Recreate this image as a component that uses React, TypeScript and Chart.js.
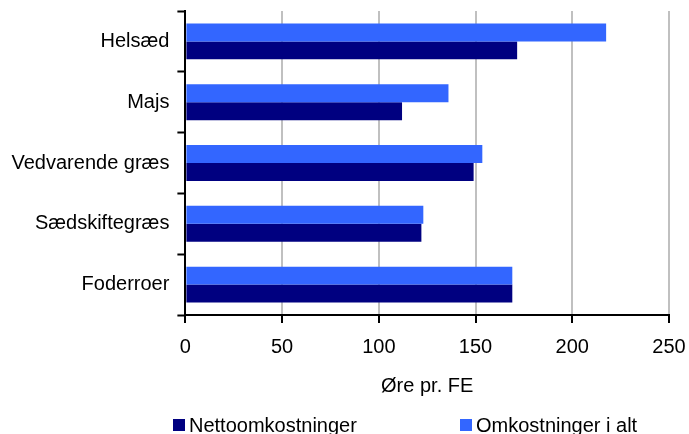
import React, { useEffect, useRef } from "react";
import { Chart, registerables } from "chart.js";

Chart.register(...registerables);

const categories = ["Helsæd", "Majs", "Vedvarende græs", "Sædskiftegræs", "Foderroer"];
const nettoomkostninger = [171.5, 112, 149, 122, 169];
const omkostningerIAlt = [217.5, 136, 153.5, 123, 169];
const xTickMin = 0;
const xTickMax = 250;
const xTickStep = 50;
const xTitle = "Øre pr. FE";
const legendNetto = "Nettoomkostninger";
const legendOmk = "Omkostninger i alt";

const FONT = "'Liberation Sans', Arial, Helvetica, sans-serif";
const NAVY = "#000080";
const BLUE = "#3366FF";

export default function App() {
  const canvasRef = useRef<HTMLCanvasElement | null>(null);

  useEffect(() => {
    const canvas = canvasRef.current;
    if (!canvas) return;
    const font = { family: FONT, size: 20 };
    const chart = new Chart(canvas, {
      type: "bar",
      data: {
        labels: categories,
        datasets: [
          { label: legendOmk, data: omkostningerIAlt, backgroundColor: BLUE },
          { label: legendNetto, data: nettoomkostninger, backgroundColor: NAVY },
        ],
      },
      options: {
        indexAxis: "y",
        animation: false,
        responsive: false,
        maintainAspectRatio: false,
        layout: { padding: { left: 3.5, right: 20, top: 11, bottom: 36 } },
        datasets: { bar: { categoryPercentage: 0.59, barPercentage: 1 } },
        plugins: { legend: { display: false }, tooltip: { enabled: false } },
        scales: {
          x: {
            min: xTickMin,
            max: xTickMax,
            ticks: { stepSize: xTickStep, color: "#000", font, padding: 12 },
            grid: { color: "#c0c0c0", lineWidth: 2, tickColor: "#000", tickLength: 8, tickWidth: 2 },
            border: { color: "#000", width: 2 },
            title: { display: true, text: xTitle, color: "#000", font, padding: { top: 3, bottom: 0 } },
            afterFit: (scale: any) => {
              scale.paddingRight = 0;
              scale.paddingLeft = 0;
            },
          },
          y: {
            ticks: { color: "#000", font, padding: 8 },
            grid: { drawOnChartArea: false, offset: true, tickColor: "#000", tickLength: 8, tickWidth: 2 },
            border: { color: "#000", width: 2 },
            afterFit: (scale: any) => {
              scale.paddingTop = 0;
              scale.paddingBottom = 0;
            },
          },
        },
      },
    });
    return () => chart.destroy();
  }, []);

  const textStyle: React.CSSProperties = {
    position: "absolute",
    top: 414.5,
    fontFamily: FONT,
    fontSize: 20,
    lineHeight: "20px",
    color: "#000",
    whiteSpace: "nowrap",
  };
  const boxStyle: React.CSSProperties = { position: "absolute", top: 419, width: 12, height: 12 };

  return (
    <div style={{ position: "absolute", left: 0, top: 0, width: 689, height: 434, overflow: "hidden", background: "#fff" }}>
      <canvas ref={canvasRef} width={689} height={434} style={{ display: "block", width: 689, height: 434 }} />
      <div style={{ ...boxStyle, left: 173, background: NAVY }} />
      <div style={{ ...textStyle, left: 189 }}>{legendNetto}</div>
      <div style={{ ...boxStyle, left: 460, background: BLUE }} />
      <div style={{ ...textStyle, left: 476 }}>{legendOmk}</div>
    </div>
  );
}
